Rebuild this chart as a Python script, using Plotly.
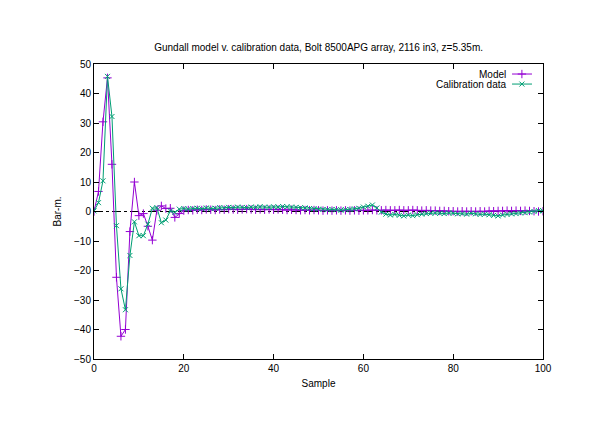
import plotly.graph_objects as go

title = "Gundall model v. calibration data, Bolt 8500APG array, 2116 in3, z=5.35m."
x_label = "Sample"
y_label = "Bar-m."
series_names = ["Model", "Calibration data"]

model = [0, 6.8, 30.4, 45.3, 16, -22.3, -42.3, -40, -6.8, 10, -1.4, -0.7, -5, -9.7, 0.4, 1.9, 1.0, 1.1, -2.0, -0.7,
         0.3, 0.5, 0.4, 0.6, 0.5, 0.7, 0.6, 0.5, 0.7, 0.6, 0.8, 0.7, 0.6, 0.7, 0.8, 0.7, 0.6, 0.7, 0.6, 0.7,
         0.6, 0.7, 0.6, 0.5, 0.6, 0.5, 0.4, 0.5, 0.4, 0.5, 0.4, 0.3, 0.4, 0.3, 0.4, 0.3, 0.4, 0.3, 0.4, 0.3,
         0.4, 0.4, 0.5, 0.4, 0.4, 0.5, 0.4, 0.4, 0.5, 0.4, 0.4, 0.5, 0.4, 0.3, 0.4, 0.3, 0.3, 0.2, 0.2, 0.1,
         0.1, 0.0, 0.1, 0.0, 0.1, 0.0, 0.1, 0.0, 0.2, 0.1, 0.2, 0.2, 0.3, 0.2, 0.3, 0.2, 0.3, 0.2, 0.1, 0.0, 0.1]

calib = [0.2, 3.0, 10.4, 45.8, 32.2, -4.8, -26.2, -33.3, -14.9, -3.5, -8.2, -8.2, -4.3, 1.1, 1.3, -3.8, -2.9, 0.2, -0.3, 0.8,
         1.0, 0.8, 1.0, 1.1, 0.9, 1.2, 1.0, 1.1, 1.3, 1.2, 1.4, 1.3, 1.5, 1.4, 1.3, 1.5, 1.4, 1.6, 1.5, 1.4,
         1.6, 1.5, 1.7, 1.6, 1.5, 1.4, 1.3, 1.2, 1.0, 0.9, 0.8, 0.7, 0.6, 0.7, 0.6, 0.5, 0.6, 0.7, 0.9, 1.1,
         1.5, 1.8, 2.2, 1.2, -0.2, -0.9, -1.2, -1.0, -1.3, -1.5, -1.2, -1.4, -1.1, -0.9, -0.7, -0.6, -0.5, -0.6, -0.7, -0.5,
         -0.6, -0.8, -0.7, -0.9, -0.6, -0.8, -1.0, -0.9, -1.1, -1.3, -1.5, -1.2, -1.0, -0.8, -0.7, -0.5, -0.4, -0.2, 0.0, 0.3, 0.2]

x_ticks = [0, 20, 40, 60, 80, 100]
y_ticks = [-50, -40, -30, -20, -10, 0, 10, 20, 30, 40, 50]

PURPLE = "#9400D3"
GREEN = "#009E73"
FONT = "Liberation Sans"

xs_m = list(range(len(model)))
xs_c = list(range(len(calib)))

fig = go.Figure()

fig.add_trace(go.Scatter(
    x=xs_m, y=model, mode="lines+markers", name=series_names[0], showlegend=False,
    line=dict(color=PURPLE, width=1),
    marker=dict(symbol="cross-thin-open", size=6, color=PURPLE, line=dict(color=PURPLE, width=1)),
))
fig.add_trace(go.Scatter(
    x=xs_c, y=calib, mode="lines+markers", name=series_names[1], showlegend=False,
    line=dict(color=GREEN, width=1),
    marker=dict(symbol="x-thin-open", size=5, color=GREEN, line=dict(color=GREEN, width=1)),
))

# legend samples (custom gnuplot-style legend: text right, sample on the right)
leg_y = [0.966, 0.932]
leg_colors = [PURPLE, GREEN]
leg_symbols = ["cross-thin-open", "x-thin-open"]
leg_sizes = [6, 5]
for i in range(2):
    fig.add_shape(type="line", xref="paper", yref="paper", x0=0.931, x1=0.9755,
                  y0=leg_y[i], y1=leg_y[i], line=dict(color=leg_colors[i], width=1))
    fig.add_trace(go.Scatter(
        x=[0.953], y=[leg_y[i]], xaxis="x2", yaxis="y2", mode="markers", showlegend=False,
        hoverinfo="skip",
        marker=dict(symbol=leg_symbols[i], size=leg_sizes[i], color=leg_colors[i],
                    line=dict(color=leg_colors[i], width=1)),
    ))
    fig.add_annotation(xref="paper", yref="paper", x=0.922, y=leg_y[i], text=series_names[i],
                       showarrow=False, xanchor="right", yanchor="middle",
                       font=dict(family=FONT, size=10, color="black"))

# zero axis
fig.add_shape(type="line", xref="x", yref="y", x0=0, x1=100, y0=0, y1=0,
              line=dict(color="black", width=1, dash="dashdot"), layer="below")

axis_common = dict(showgrid=False, zeroline=False, showline=True, linecolor="black", linewidth=1,
                   mirror="ticks", ticks="inside", ticklen=5, tickcolor="black", tickwidth=1,
                   tickfont=dict(family=FONT, size=10, color="black"))

fig.update_layout(
    width=612, height=427,
    margin=dict(l=94, r=69, t=64, b=68),
    paper_bgcolor="white", plot_bgcolor="white",
    title=dict(text=title, x=0.5206, xanchor="center", y=1 - 47 / 427, yanchor="middle",
               font=dict(family=FONT, size=10, color="black")),
    xaxis=dict(range=[0, 100], tickvals=x_ticks, title=dict(text=x_label, standoff=6,
               font=dict(family=FONT, size=10, color="black")), **axis_common),
    yaxis=dict(range=[-50, 50], tickvals=y_ticks, title=dict(text=y_label, standoff=10,
               font=dict(family=FONT, size=10, color="black")), **axis_common),
    xaxis2=dict(range=[0, 1], overlaying="x", anchor="y2", visible=False),
    yaxis2=dict(range=[0, 1], overlaying="y", anchor="x2", visible=False),
    showlegend=False,
)

fig.write_html("out.html")
